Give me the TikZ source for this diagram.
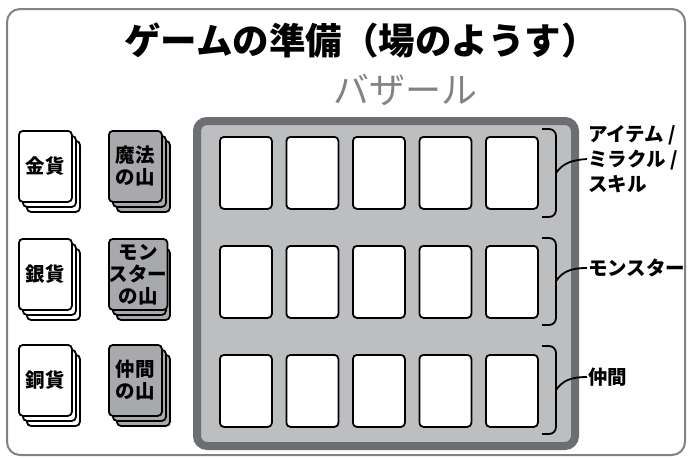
\documentclass[tikz,border=0pt]{standalone}
\usepackage{fontspec}
\newfontfamily\cjk{Noto Sans CJK JP}
\definecolor{framegray}{RGB}{128,130,133}
\definecolor{boardfill}{RGB}{188,190,192}
\definecolor{boardedge}{RGB}{109,110,113}
\definecolor{deckgray}{RGB}{167,169,172}
\definecolor{bazaargray}{RGB}{128,130,133}
\newcommand\mydeck[5]{%
  \node[deckcard, fill=#4] (#1c) at ({#2+8},{#3+10}) {};
  \node[deckcard, fill=#4] (#1b) at ({#2+4},{#3+5}) {};
  \node[deckcard, fill=#4, decktext] (#1) at (#2,#3) {#5};
}
\begin{document}
\begin{tikzpicture}[x=1pt,y=-1pt,
  boardcard/.style={draw=black, line width=1.8pt, rounded corners=4pt, fill=white,
    minimum width=52pt, minimum height=72pt, inner sep=0pt, anchor=north west},
  deckcard/.style={draw=black, line width=1.8pt, rounded corners=4pt,
    minimum width=53pt, minimum height=71pt, inner sep=0pt, anchor=north west},
  decktext/.style={font=\cjk\bfseries\fontsize{19.5}{22}\selectfont, align=center},
  bracket/.style={draw=black, line width=1.8pt, rounded corners=7pt},
  tail/.style={draw=black, line width=1.8pt},
  sidelabel/.style={font=\cjk\bfseries\fontsize{19.5}{25}\selectfont, align=left,
    anchor=west, inner sep=1pt},
]
\useasboundingbox (0,0) rectangle (688,458);
% outer frame
\draw[framegray, line width=2pt, rounded corners=13pt] (7,9) rectangle (685,455);
% title
\node[font=\cjk\bfseries\fontsize{36.5}{40}\selectfont, inner sep=0pt] (title) at (361,41)
  {ゲームの準備（場のようす）};
\node[font=\cjk\fontsize{36}{40}\selectfont, text=bazaargray, inner sep=0pt] (bazaar)
  at (405,90) {バザール};
% board
\node[draw=boardedge, line width=8pt, fill=boardfill, rounded corners=10pt,
  minimum width=378pt, minimum height=325pt, inner sep=0pt, anchor=north west]
  (board) at (193,117) {};
% board cards
\foreach \r/\yy in {1/136, 2/245, 3/354} {
  \foreach \c/\xx in {1/219, 2/285.5, 3/352, 4/418.5, 5/485} {
    \node[boardcard] (b\r\c) at (\xx,\yy) {};
  }
}
% decks
\mydeck{gold}{18}{130}{white}{金貨}
\mydeck{silver}{18}{238}{white}{銀貨}
\mydeck{copper}{18}{344}{white}{銅貨}
\mydeck{magic}{108}{130}{deckgray}{魔法\\の山}
\mydeck{monster}{108}{238}{deckgray}{モン\\スター\\の山}
\mydeck{ally}{108}{344}{deckgray}{仲間\\の山}
% labels
\node[sidelabel] (lab1) at (587,159) {アイテム /\\ミラクル /\\スキル};
\node[sidelabel] (lab2) at (587,268) {モンスター};
\node[sidelabel] (lab3) at (587,377) {仲間};
% brackets
\draw[bracket] (542,129) -- (556,129) -- (556,217) -- (542,217);
\draw[bracket] (542,238) -- (556,238) -- (556,325) -- (542,325);
\draw[bracket] (542,346) -- (556,346) -- (556,434) -- (542,434);
\coordinate (t1) at (556,173);
\coordinate (t2) at (556,281);
\coordinate (t3) at (556,390);
\draw[tail] (t1) .. controls (563,163) and (572,160) .. (lab1.west);
\draw[tail] (t2) .. controls (563,271) and (572,268) .. (lab2.west);
\draw[tail] (t3) .. controls (563,380) and (572,377) .. (lab3.west);
\end{tikzpicture}
\end{document}
